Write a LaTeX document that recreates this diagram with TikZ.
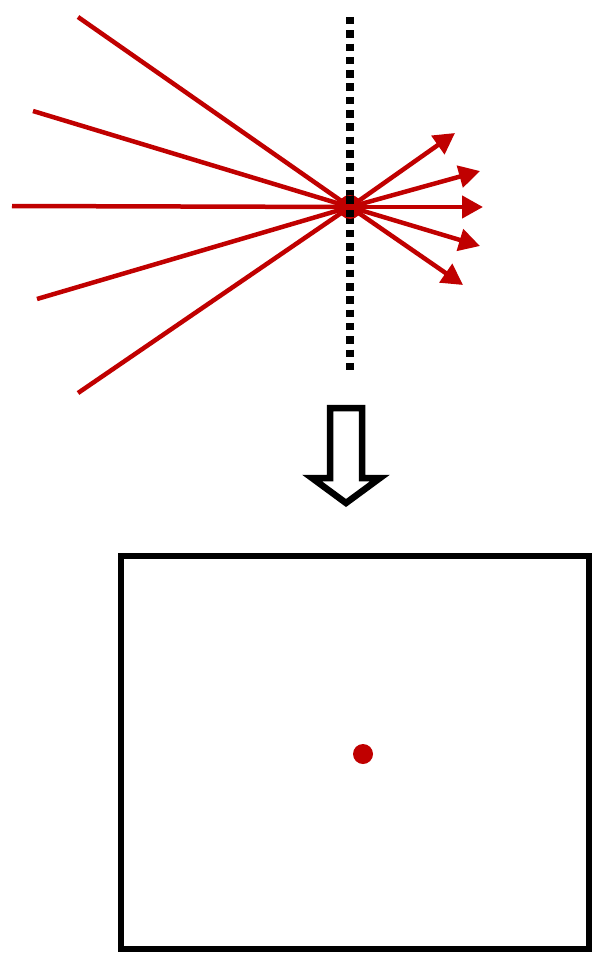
\documentclass[tikz,border=0pt]{standalone}
\usetikzlibrary{arrows.meta}
\definecolor{rayred}{HTML}{C00000}
\begin{document}
\begin{tikzpicture}[x=1pt,y=-1pt,
  ray/.style={rayred,line width=4.5pt},
  outray/.style={rayred,line width=4.5pt,-{Triangle[length=21pt,width=22pt]}},
  frame/.style={black,line width=6.5pt}]
\useasboundingbox (0,0) rectangle (596,955);
% dotted plane
\draw[black,line width=8pt,dash pattern=on 7.5pt off 5.8pt] (350,17) -- (350,375);
% focus point
\coordinate (f) at (350,207);
\coordinate (i1) at (78,17);
\coordinate (i2) at (33,111);
\coordinate (i3) at (12,206);
\coordinate (i4) at (37,299);
\coordinate (i5) at (78,393);
\coordinate (o1) at (455,133);
\coordinate (o2) at (480,171);
\coordinate (o3) at (483,207);
\coordinate (o4) at (480,246);
\coordinate (o5) at (463,285);
\foreach \p in {i1,i2,i3,i4,i5} \draw[ray] (\p) -- (f);
\foreach \p in {o1,o2,o3,o4,o5} \draw[outray] (f) -- (\p);
\fill[rayred] (f) circle (12pt);
\fill[black] (346,196) rectangle (354,203.5);
\fill[black] (346,209.5) rectangle (354,217);
% hollow arrow
\draw[frame,fill=white,line join=miter] (330,408) -- (362,408) -- (362,478) -- (380,478) -- (346,503) -- (312,478) -- (330,478) -- cycle;
% screen
\draw[frame] (121,556) rectangle (589,949);
\fill[rayred] (363,754) circle (10pt);
\end{tikzpicture}
\end{document}
